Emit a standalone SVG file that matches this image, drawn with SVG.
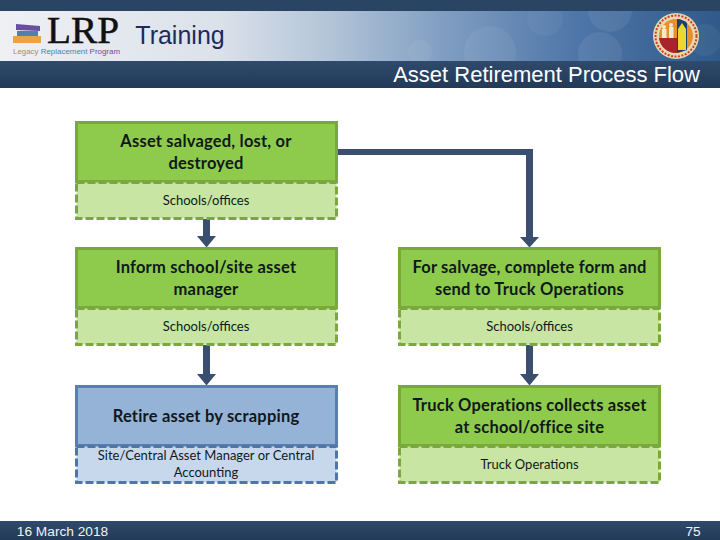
<svg xmlns="http://www.w3.org/2000/svg" width="720" height="540" viewBox="0 0 720 540">
<defs>
<linearGradient id="band" x1="0" y1="0" x2="1" y2="0"><stop offset="0" stop-color="#eef0f4"/><stop offset="0.3" stop-color="#dce2ea"/><stop offset="0.45" stop-color="#b5c6d9"/><stop offset="0.62" stop-color="#7f9dc1"/><stop offset="0.8" stop-color="#4f76a8"/><stop offset="1" stop-color="#2f5a8a"/></linearGradient>
<linearGradient id="dark" x1="0" y1="0" x2="0" y2="1"><stop offset="0" stop-color="#2f4a6c"/><stop offset="1" stop-color="#223a58"/></linearGradient>
<clipPath id="bandclip"><rect y="11" width="720" height="50"/></clipPath>
</defs>
<style>
text{font-family:"Lato","Open Sans","Liberation Sans",sans-serif;text-anchor:middle;fill:#10181c}
.h{font-size:16.5px;font-weight:700;letter-spacing:.2px}
.s{font-size:13px}
.g1{fill:#8ecb4c;stroke:#7aa83c;stroke-width:3}
.g2{fill:#c8e5a4;stroke:#7aa83c;stroke-width:3;stroke-dasharray:8 3}
.b1{fill:#95b3d7;stroke:#5b7fad;stroke-width:3}
.b2{fill:#c8d8ec;stroke:#4f76a8;stroke-width:3;stroke-dasharray:8 3}
.hd{font-family:"Liberation Sans",Arial,sans-serif}
.a{fill:#3a4f70}
</style>
<rect width="720" height="540" fill="#fff"/>
<g id="header">
<rect width="720" height="11" fill="#2a4464"/>
<rect y="11" width="720" height="50" fill="url(#band)"/>
<g clip-path="url(#bandclip)" fill="#fff">
<circle cx="490" cy="52" r="26" fill-opacity=".06"/>
<circle cx="420" cy="52" r="12" fill-opacity=".05"/>
<circle cx="545" cy="18" r="18" fill-opacity=".04"/>
<circle cx="600" cy="54" r="22" fill-opacity=".07"/>
<circle cx="610" cy="10" r="22" fill-opacity=".07"/>
<circle cx="705" cy="40" r="16" fill-opacity=".05"/>
</g>
<rect y="61" width="720" height="27" fill="url(#dark)"/>
<path d="M16 24L40 26V31L16 30Z" fill="#6b4ea0"/>
<path d="M17 31L38 31V36L17 36Z" fill="#4f82a8"/>
<rect x="13" y="36" width="28" height="7" fill="#e8a347"/>
<text x="83" y="43" style="font-family:'Liberation Serif',serif;font-size:38px;fill:#111;stroke:#111;stroke-width:.5" textLength="72" lengthAdjust="spacingAndGlyphs">LRP</text>
<text x="66.500" y="54" class="hd" style="font-size:7px;fill:#5f7a96" textLength="107" lengthAdjust="spacingAndGlyphs"><tspan fill="#b08a50">Legacy </tspan><tspan fill="#4f82a8">Replacement </tspan><tspan fill="#6b4e90">Program</tspan></text>
<text x="180" y="44" class="hd" style="font-size:25px;fill:#1d2a5e">Training</text>
<text x="700" y="82" class="hd" style="font-size:22px;fill:#fff;text-anchor:end">Asset Retirement Process Flow</text>
<circle cx="676" cy="36" r="23" fill="#e8d8b0"/>
<circle cx="676" cy="36" r="20.500" fill="none" stroke="#c8402c" stroke-width="2" stroke-dasharray="2 1.500"/>
<circle cx="676" cy="36" r="17" fill="#e8902c"/>
<path d="M659 38A17 17 0 0 0 677 53V38Z" fill="#a8232c"/>
<path d="M677 19A17 17 0 0 1 687 23V50L677 53Z" fill="#1d3c78"/>
<path d="M678 50V29L682 23L686 29V50Z" fill="#e8d830"/>
<circle cx="664" cy="27" r="2" fill="#f4e8d0"/><circle cx="671" cy="25" r="2" fill="#f4e8d0"/>
<rect x="662" y="29" width="4.500" height="9" fill="#f4e8d0"/><rect x="669" y="27" width="4.500" height="11" fill="#f4e8d0"/>
</g>
<g id="connectors">
<path class="a" d="M337 149H533V237H539L529.500 247.500L520 237H526V155H337Z"/>
<path class="a" d="M203 219H210V236H216L206.500 247.500L197 236H203Z"/>
<path class="a" d="M203 345H210V374H216L206.500 385.500L197 374H203Z"/>
<path class="a" d="M526 345H533V374H539L529.500 385.500L520 374H526Z"/>
</g>
<g id="n1"><rect class="g1" x="76.500" y="122.500" width="260" height="59"/><rect class="g2" x="76.500" y="182.500" width="260" height="36"/>
<text class="h" x="206" y="147">Asset salvaged, lost, or</text><text class="h" x="206" y="169">destroyed</text><text class="s" x="206" y="205">Schools/offices</text></g>
<g id="n2"><rect class="g1" x="76.500" y="248.500" width="260" height="59"/><rect class="g2" x="76.500" y="308.500" width="260" height="36"/>
<text class="h" x="206" y="273">Inform school/site asset</text><text class="h" x="206" y="295">manager</text><text class="s" x="206" y="331">Schools/offices</text></g>
<g id="n3"><rect class="b1" x="76.500" y="386.500" width="260" height="59"/><rect class="b2" x="76.500" y="446.500" width="260" height="36"/>
<text class="h" x="206" y="422">Retire asset by scrapping</text><text class="s" x="206" y="460">Site/Central Asset Manager or Central</text><text class="s" x="206" y="477">Accounting</text></g>
<g id="n4"><rect class="g1" x="399.500" y="248.500" width="260" height="59"/><rect class="g2" x="399.500" y="308.500" width="260" height="36"/>
<text class="h" x="529.500" y="273">For salvage, complete form and</text><text class="h" x="529.500" y="295">send to Truck Operations</text><text class="s" x="529.500" y="331">Schools/offices</text></g>
<g id="n5"><rect class="g1" x="399.500" y="386.500" width="260" height="59"/><rect class="g2" x="399.500" y="446.500" width="260" height="36"/>
<text class="h" x="529.500" y="411">Truck Operations collects asset</text><text class="h" x="529.500" y="433">at school/office site</text><text class="s" x="529.500" y="469">Truck Operations</text></g>
<g id="footer">
<rect y="521" width="720" height="19" fill="url(#dark)"/>
<text class="hd" x="62.500" y="536" style="font-size:13.700px;fill:#f2f2f2">16 March 2018</text>
<text class="hd" x="693" y="536" style="font-size:13.700px;fill:#f2f2f2">75</text>
</g>
</svg>
